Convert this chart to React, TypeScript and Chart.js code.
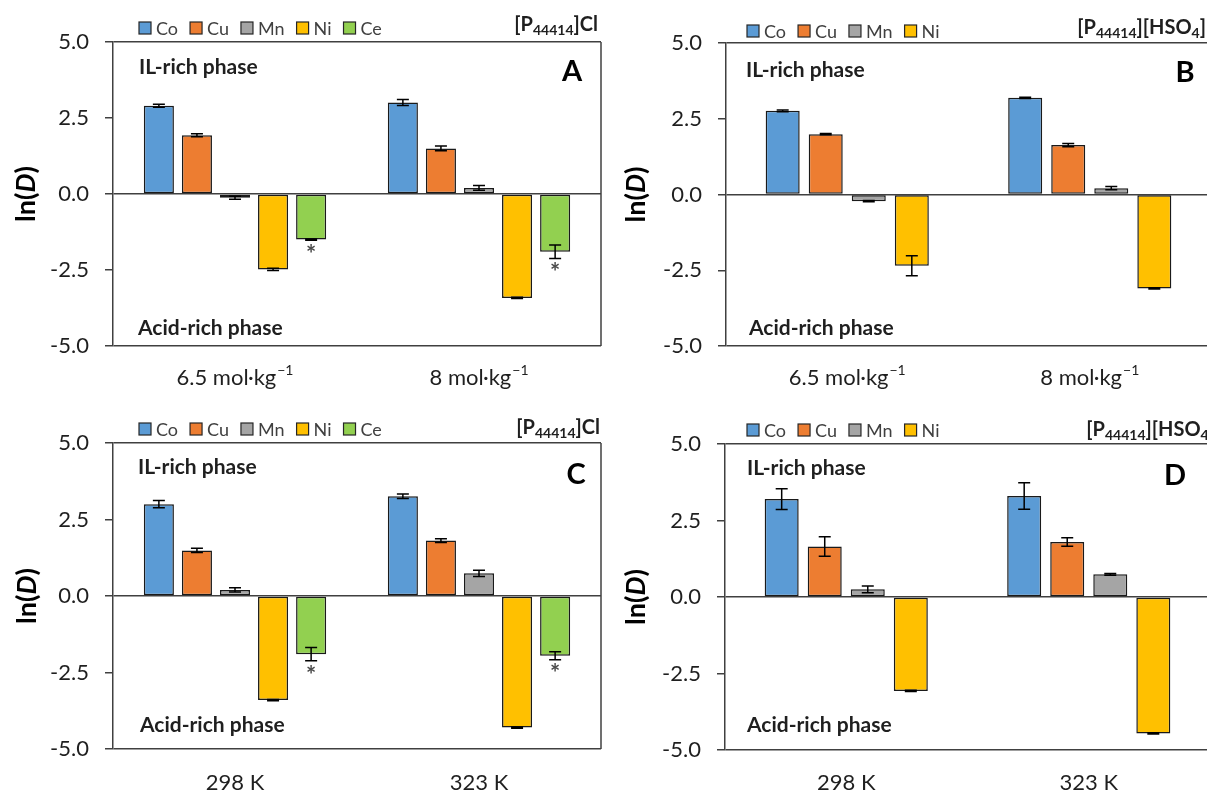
import React, { useEffect, useRef } from 'react';
import { Chart, registerables } from 'chart.js';

Chart.register(...registerables);

const FONT = 'Lato, "Open Sans", "DejaVu Sans", sans-serif';
const INK = '#1f1f1f';
const LINE = '#404040';

// ---- shared categories / series ----
const metalNames = ['Co', 'Cu', 'Mn', 'Ni', 'Ce'];
const metalColors = ['#5B9BD5', '#ED7D31', '#A5A5A5', '#FFC000', '#92D050'];
const concLabels = ['6.5 mol·kg⁻¹', '8 mol·kg⁻¹'];
const tempLabels = ['298 K', '323 K'];
const yMin = -5;
const yMax = 5;
const yStep = 2.5;

// ---- Panel A: [P44414]Cl, molality ----
const aCo = [2.9, 3.01];
const aCoErr = [0.05, 0.1];
const aCu = [1.93, 1.5];
const aCuErr = [0.05, 0.08];
const aMn = [-0.12, 0.2];
const aMnErr = [0.05, 0.08];
const aNi = [-2.48, -3.42];
const aNiErr = [0.04, 0.02];
const aCe = [-1.5, -1.9];
const aCeErr = [0.02, 0.22];

// ---- Panel B: [P44414][HSO4], molality ----
const bCo = [2.76, 3.19];
const bCoErr = [0.03, 0.02];
const bCu = [1.99, 1.63];
const bCuErr = [0.02, 0.05];
const bMn = [-0.22, 0.21];
const bMnErr = [0.02, 0.05];
const bNi = [-2.35, -3.1];
const bNiErr = [0.33, 0.02];

// ---- Panel C: [P44414]Cl, temperature ----
const cCo = [3.0, 3.26];
const cCoErr = [0.12, 0.07];
const cCu = [1.49, 1.81];
const cCuErr = [0.07, 0.06];
const cMn = [0.2, 0.74];
const cMnErr = [0.07, 0.1];
const cNi = [-3.4, -4.3];
const cNiErr = [0.02, 0.02];
const cCe = [-1.9, -1.95];
const cCeErr = [0.22, 0.13];

// ---- Panel D: [P44414][HSO4], temperature ----
const dCo = [3.2, 3.3];
const dCoErr = [0.34, 0.43];
const dCu = [1.65, 1.8];
const dCuErr = [0.32, 0.14];
const dMn = [0.25, 0.74];
const dMnErr = [0.11, 0.03];
const dNi = [-3.07, -4.46];
const dNiErr = [0.02, 0.02];

// series marked with an asterisk
const starredMetals = ['Ce'];

type Series = { values: number[]; errs: number[] };

function makeDatasets(series: Series[]) {
  return series.map((s, i) => ({
    label: metalNames[i],
    data: s.values,
    errs: s.errs,
    star: starredMetals.includes(metalNames[i]),
    backgroundColor: metalColors[i],
    borderColor: '#1a1a1a',
    borderWidth: 1.5,
    borderSkipped: false,
  }));
}

type PanelCfg = {
  left: number;
  top: number;
  width: number;
  height: number;
  labels: string[];
  series: Series[];
  padTop: number;
  padRight: number;
  yWidth: number;
  xHeight: number;
  xLabelOffset: number;
  catPct: number;
  barPct: number;
  legendX: number;
  legendY: number;
  titleParts: { t: string; sub?: boolean }[];
  titleRight: number;
  titleY: number;
  letter: string;
  letterX: number;
  letterY: number;
  ilX: number;
  ilY: number;
  acidX: number;
  acidY: number;
  yTitleX: number;
};

const titleCl = [{ t: '[P' }, { t: '44414', sub: true }, { t: ']Cl' }];
const titleHSO4 = [{ t: '[P' }, { t: '44414', sub: true }, { t: '][HSO' }, { t: '4', sub: true }, { t: ']' }];

const panels: PanelCfg[] = [
  {
    left: 0, top: 0, width: 603, height: 400,
    labels: concLabels,
    series: [
      { values: aCo, errs: aCoErr },
      { values: aCu, errs: aCuErr },
      { values: aMn, errs: aMnErr },
      { values: aNi, errs: aNiErr },
      { values: aCe, errs: aCeErr },
    ],
    padTop: 42, padRight: 2, yWidth: 113, xHeight: 54, xLabelOffset: 32,
    catPct: 0.78, barPct: 0.79,
    legendX: 139, legendY: 28,
    titleParts: titleCl, titleRight: 598, titleY: 31,
    letter: 'A', letterX: 572, letterY: 72,
    ilX: 139, ilY: 67, acidX: 138, acidY: 328,
    yTitleX: 26,
  },
  {
    left: 603, top: 0, width: 612, height: 400,
    labels: concLabels,
    series: [
      { values: bCo, errs: bCoErr },
      { values: bCu, errs: bCuErr },
      { values: bMn, errs: bMnErr },
      { values: bNi, errs: bNiErr },
    ],
    padTop: 43, padRight: 4, yWidth: 123, xHeight: 54, xLabelOffset: 32,
    catPct: 0.71, barPct: 0.79,
    legendX: 144, legendY: 31,
    titleParts: titleHSO4, titleRight: 603, titleY: 34,
    letter: 'B', letterX: 582, letterY: 73,
    ilX: 143, ilY: 70, acidX: 146, acidY: 328,
    yTitleX: 33,
  },
  {
    left: 0, top: 400, width: 603, height: 394,
    labels: tempLabels,
    series: [
      { values: cCo, errs: cCoErr },
      { values: cCu, errs: cCuErr },
      { values: cMn, errs: cMnErr },
      { values: cNi, errs: cNiErr },
      { values: cCe, errs: cCeErr },
    ],
    padTop: 43, padRight: 2, yWidth: 113, xHeight: 45, xLabelOffset: 34,
    catPct: 0.78, barPct: 0.79,
    legendX: 139, legendY: 29,
    titleParts: titleCl, titleRight: 600, titleY: 34,
    letter: 'C', letterX: 576, letterY: 75,
    ilX: 138, ilY: 67, acidX: 140, acidY: 325,
    yTitleX: 27,
  },
  {
    left: 603, top: 400, width: 612, height: 394,
    labels: tempLabels,
    series: [
      { values: dCo, errs: dCoErr },
      { values: dCu, errs: dCuErr },
      { values: dMn, errs: dMnErr },
      { values: dNi, errs: dNiErr },
    ],
    padTop: 44, padRight: 5, yWidth: 122, xHeight: 44, xLabelOffset: 33,
    catPct: 0.71, barPct: 0.79,
    legendX: 144, legendY: 30,
    titleParts: titleHSO4, titleRight: 612, titleY: 36,
    letter: 'D', letterX: 572, letterY: 76,
    ilX: 144, ilY: 68, acidX: 144, acidY: 325,
    yTitleX: 33,
  },
];

function makeDecoPlugin(cfg: PanelCfg) {
  return {
    id: 'deco' + cfg.letter,
    afterDatasetsDraw(chart: any) {
      const ctx = chart.ctx as CanvasRenderingContext2D;
      const ys = chart.scales.y;
      const area = chart.chartArea;
      ctx.save();
      // right frame border
      ctx.strokeStyle = LINE;
      ctx.lineWidth = 1.5;
      ctx.beginPath();
      ctx.moveTo(area.right, area.top);
      ctx.lineTo(area.right, area.bottom);
      ctx.stroke();

      // error bars + asterisks
      chart.data.datasets.forEach((ds: any, i: number) => {
        const meta = chart.getDatasetMeta(i);
        meta.data.forEach((el: any, j: number) => {
          const v = ds.data[j];
          const e = ds.errs[j];
          const x = el.x;
          const y1 = ys.getPixelForValue(v + e);
          const y2 = ys.getPixelForValue(v - e);
          ctx.strokeStyle = '#000';
          ctx.lineWidth = 1.5;
          ctx.beginPath();
          ctx.moveTo(x, y1);
          ctx.lineTo(x, y2);
          ctx.moveTo(x - 6, y1);
          ctx.lineTo(x + 6, y1);
          ctx.moveTo(x - 6, y2);
          ctx.lineTo(x + 6, y2);
          ctx.stroke();
          if (ds.star) {
            ctx.fillStyle = '#4a4a4a';
            ctx.font = `bold 24px ${FONT}`;
            ctx.textAlign = 'center';
            ctx.textBaseline = 'top';
            ctx.fillText('*', x, y2 + 3);
          }
        });
      });
      ctx.restore();
    },
    afterDraw(chart: any) {
      const ctx = chart.ctx as CanvasRenderingContext2D;
      const area = chart.chartArea;
      const xs = chart.scales.x;
      ctx.save();

      // x category labels (with real superscripts)
      chart.data.labels.forEach((lab: string, i: number) => {
        const cx = xs.getPixelForTick(i);
        const cy = area.bottom + cfg.xLabelOffset;
        const supIdx = lab.indexOf('⁻¹');
        const base = supIdx >= 0 ? lab.slice(0, supIdx) : lab;
        const sup = supIdx >= 0 ? '−1' : '';
        ctx.font = `22px ${FONT}`;
        const wb = ctx.measureText(base).width;
        ctx.font = `14px ${FONT}`;
        const ws = sup ? ctx.measureText(sup).width + 1 : 0;
        const x0 = cx - (wb + ws) / 2;
        ctx.fillStyle = INK;
        ctx.textAlign = 'left';
        ctx.textBaseline = 'middle';
        ctx.font = `22px ${FONT}`;
        ctx.fillText(base, x0, cy);
        if (sup) {
          ctx.font = `14px ${FONT}`;
          ctx.fillText(sup, x0 + wb + 1, cy - 8);
        }
      });

      // legend
      let lx = cfg.legendX;
      ctx.font = `18px ${FONT}`;
      ctx.textBaseline = 'middle';
      ctx.textAlign = 'left';
      chart.data.datasets.forEach((ds: any) => {
        ctx.fillStyle = ds.backgroundColor;
        ctx.fillRect(lx, cfg.legendY - 6, 12, 12);
        ctx.strokeStyle = '#262626';
        ctx.lineWidth = 1.2;
        ctx.strokeRect(lx, cfg.legendY - 6, 12, 12);
        ctx.fillStyle = '#404040';
        ctx.fillText(ds.label, lx + 17, cfg.legendY + 1);
        lx += 17 + ctx.measureText(ds.label).width + 12;
      });

      // title with subscripts (right aligned)
      ctx.textBaseline = 'alphabetic';
      ctx.textAlign = 'left';
      ctx.fillStyle = INK;
      let tw = 0;
      cfg.titleParts.forEach((p) => {
        ctx.font = p.sub ? `bold 14px ${FONT}` : `bold 20px ${FONT}`;
        tw += ctx.measureText(p.t).width;
      });
      let tx = cfg.titleRight - tw;
      cfg.titleParts.forEach((p) => {
        ctx.font = p.sub ? `bold 14px ${FONT}` : `bold 20px ${FONT}`;
        ctx.fillText(p.t, tx, cfg.titleY + (p.sub ? 4 : 0));
        tx += ctx.measureText(p.t).width;
      });

      // panel letter
      ctx.font = `bold 29px ${FONT}`;
      ctx.textAlign = 'center';
      ctx.textBaseline = 'middle';
      ctx.fillStyle = '#000';
      ctx.fillText(cfg.letter, cfg.letterX, cfg.letterY);

      // phase notes
      ctx.font = `bold 21px ${FONT}`;
      ctx.textAlign = 'left';
      ctx.fillStyle = INK;
      ctx.fillText('IL-rich phase', cfg.ilX, cfg.ilY);
      ctx.fillText('Acid-rich phase', cfg.acidX, cfg.acidY);

      // y-axis title ln(D)
      const cy = (area.top + area.bottom) / 2;
      ctx.translate(cfg.yTitleX, cy);
      ctx.rotate(-Math.PI / 2);
      const parts = [
        { t: 'ln(', f: `bold 27px ${FONT}` },
        { t: 'D', f: `italic bold 27px ${FONT}` },
        { t: ')', f: `bold 27px ${FONT}` },
      ];
      let total = 0;
      parts.forEach((p) => {
        ctx.font = p.f;
        total += ctx.measureText(p.t).width;
      });
      let px = -total / 2;
      ctx.textAlign = 'left';
      ctx.textBaseline = 'middle';
      ctx.fillStyle = '#000';
      parts.forEach((p) => {
        ctx.font = p.f;
        ctx.fillText(p.t, px, 0);
        px += ctx.measureText(p.t).width;
      });
      ctx.restore();
    },
  };
}

function Panel({ cfg }: { cfg: PanelCfg }) {
  const ref = useRef<HTMLCanvasElement | null>(null);
  useEffect(() => {
    if (!ref.current) return;
    const chart = new Chart(ref.current, {
      type: 'bar',
      data: {
        labels: cfg.labels,
        datasets: makeDatasets(cfg.series) as any,
      },
      options: {
        responsive: false,
        animation: false,
        devicePixelRatio: 1,
        layout: { padding: { top: cfg.padTop, right: cfg.padRight, left: 0, bottom: 0 } },
        plugins: {
          legend: { display: false },
          tooltip: { enabled: false },
          title: { display: false },
        },
        datasets: {
          bar: { categoryPercentage: cfg.catPct, barPercentage: cfg.barPct },
        },
        scales: {
          x: {
            grid: { display: false },
            border: { display: false },
            ticks: { display: false },
            afterFit: (s: any) => {
              s.height = cfg.xHeight;
            },
          },
          y: {
            min: yMin,
            max: yMax,
            ticks: {
              stepSize: yStep,
              callback: (v: any) => Number(v).toFixed(1),
              font: { family: FONT, size: 22 },
              color: INK,
              padding: 16,
            },
            grid: {
              drawOnChartArea: true,
              color: (c: any) =>
                c.tick && [yMin, 0, yMax].includes(c.tick.value) ? LINE : 'rgba(0,0,0,0)',
              tickColor: LINE,
              tickLength: 8,
              lineWidth: 1.5,
            },
            border: { display: true, color: LINE, width: 1.5 },
            afterFit: (s: any) => {
              s.width = cfg.yWidth;
            },
          },
        },
      } as any,
      plugins: [makeDecoPlugin(cfg)],
    });
    return () => chart.destroy();
  }, [cfg]);
  return (
    <canvas
      ref={ref}
      width={cfg.width}
      height={cfg.height}
      style={{
        position: 'absolute',
        left: cfg.left,
        top: cfg.top,
        width: cfg.width,
        height: cfg.height,
      }}
    />
  );
}

export default function App() {
  return (
    <div
      style={{
        position: 'absolute',
        left: 0,
        top: 0,
        width: 1207,
        height: 794,
        overflow: 'hidden',
        background: '#ffffff',
      }}
    >
      {panels.map((p) => (
        <Panel key={p.letter} cfg={p} />
      ))}
    </div>
  );
}
